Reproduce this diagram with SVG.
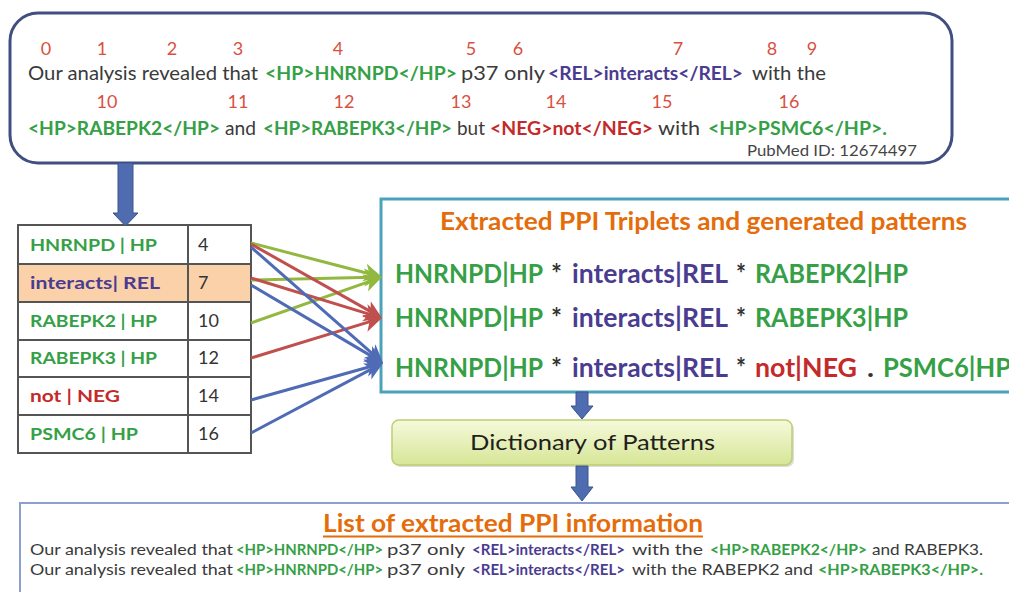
<svg xmlns="http://www.w3.org/2000/svg" width="1009" height="592" viewBox="0 0 1009 592">
  <defs>
    <style>
      text { font-family: Lato, "Open Sans", "Liberation Sans", sans-serif; }
      .dk { fill: #3a3a3a; }
      .hp { fill: #35a046; font-weight: bold; }
      .rel { fill: #4a3c90; font-weight: bold; }
      .neg { fill: #c42a2a; font-weight: bold; }
      .idx { fill: #d9503f; font-size: 18px; text-anchor: middle; }
      .cell { fill: #ffffff; stroke: #555555; stroke-width: 2; }
      .cell-hl { fill: #fbd1aa; stroke: #555555; stroke-width: 2; }
      .tlab { font-size: 17px; font-weight: bold; }
      .tnum { font-size: 18px; fill: #333333; }
      .link { fill: none; stroke-width: 3; }
      .lg { stroke: #92b840; marker-end: url(#headG); }
      .lr { stroke: #c0504d; marker-end: url(#headR); }
      .lb { stroke: #4f6bb5; marker-end: url(#headB); }
      .block { fill: #4f6cb0; stroke: #3b548f; stroke-width: 1; }
      .pat { font-size: 26px; }
      .star { fill: #333333; font-weight: bold; }
      .orange { fill: #e46c0a; font-weight: bold; }
      .small { font-size: 15px; }
    </style>
    <marker id="headG" markerUnits="userSpaceOnUse" markerWidth="20" markerHeight="20" refX="8" refY="10" orient="auto">
      <path d="M0,1 L18,10 L0,19 L5,10 Z" fill="#92b840"/>
    </marker>
    <marker id="headR" markerUnits="userSpaceOnUse" markerWidth="20" markerHeight="20" refX="8" refY="10" orient="auto">
      <path d="M0,1 L18,10 L0,19 L5,10 Z" fill="#c0504d"/>
    </marker>
    <marker id="headB" markerUnits="userSpaceOnUse" markerWidth="20" markerHeight="20" refX="8" refY="10" orient="auto">
      <path d="M0,1 L18,10 L0,19 L5,10 Z" fill="#4f6bb5"/>
    </marker>
    <linearGradient id="dictFill" x1="0" y1="0" x2="0" y2="1">
      <stop offset="0" stop-color="#f6f9dc"/>
      <stop offset="1" stop-color="#d6e696"/>
    </linearGradient>
  </defs>

  <rect x="0" y="0" width="1009" height="592" fill="#ffffff"/>

  <!-- annotated source sentence -->
  <g id="source-sentence">
    <rect x="10" y="13" width="942" height="150" rx="28" fill="#ffffff" stroke="#404f80" stroke-width="3"/>
    <g class="idx">
      <text x="46" y="55">0</text>
      <text x="102" y="55">1</text>
      <text x="172" y="55">2</text>
      <text x="238" y="55">3</text>
      <text x="338" y="55">4</text>
      <text x="471" y="55">5</text>
      <text x="518" y="55">6</text>
      <text x="678" y="55">7</text>
      <text x="772" y="55">8</text>
      <text x="812" y="55">9</text>
      <text x="107" y="108">10</text>
      <text x="238" y="108">11</text>
      <text x="344" y="108">12</text>
      <text x="461" y="108">13</text>
      <text x="556" y="108">14</text>
      <text x="662" y="108">15</text>
      <text x="789" y="108">16</text>
    </g>
    <text y="80" font-size="19"><tspan class="dk" x="28" textLength="230" lengthAdjust="spacingAndGlyphs">Our analysis revealed that</tspan><tspan class="hp" x="265" textLength="192" lengthAdjust="spacingAndGlyphs">&lt;HP&gt;HNRNPD&lt;/HP&gt;</tspan><tspan class="dk" x="461" textLength="84" lengthAdjust="spacingAndGlyphs">p37 only</tspan><tspan class="rel" x="548" textLength="195" lengthAdjust="spacingAndGlyphs">&lt;REL&gt;interacts&lt;/REL&gt;</tspan><tspan class="dk" x="752" textLength="74" lengthAdjust="spacingAndGlyphs">with the</tspan></text>
    <text y="135" font-size="19"><tspan class="hp" x="28" textLength="192" lengthAdjust="spacingAndGlyphs">&lt;HP&gt;RABEPK2&lt;/HP&gt;</tspan><tspan class="dk" x="225" textLength="31" lengthAdjust="spacingAndGlyphs">and</tspan><tspan class="hp" x="263" textLength="189" lengthAdjust="spacingAndGlyphs">&lt;HP&gt;RABEPK3&lt;/HP&gt;</tspan><tspan class="dk" x="457" textLength="28" lengthAdjust="spacingAndGlyphs">but</tspan><tspan class="neg" x="490" textLength="163" lengthAdjust="spacingAndGlyphs">&lt;NEG&gt;not&lt;/NEG&gt;</tspan><tspan class="dk" x="658" textLength="42" lengthAdjust="spacingAndGlyphs">with</tspan><tspan class="hp" x="708" textLength="179" lengthAdjust="spacingAndGlyphs">&lt;HP&gt;PSMC6&lt;/HP&gt;.</tspan></text>
    <text x="747" y="156" class="small" fill="#454545" textLength="170" lengthAdjust="spacingAndGlyphs">PubMed ID: 12674497</text>
  </g>

  <!-- token / position table -->
  <g id="token-table">
    <rect class="cell" x="18" y="225" width="170" height="39"/>
    <rect class="cell" x="188" y="225" width="63" height="39"/>
    <rect class="cell-hl" x="18" y="264" width="170" height="38"/>
    <rect class="cell-hl" x="188" y="264" width="63" height="38"/>
    <rect class="cell" x="18" y="302" width="170" height="38"/>
    <rect class="cell" x="188" y="302" width="63" height="38"/>
    <rect class="cell" x="18" y="340" width="170" height="37"/>
    <rect class="cell" x="188" y="340" width="63" height="37"/>
    <rect class="cell" x="18" y="377" width="170" height="38"/>
    <rect class="cell" x="188" y="377" width="63" height="38"/>
    <rect class="cell" x="18" y="415" width="170" height="38"/>
    <rect class="cell" x="188" y="415" width="63" height="38"/>
    <text class="tlab hp" x="30" y="251" textLength="127" lengthAdjust="spacingAndGlyphs">HNRNPD | HP</text>
    <text class="tlab rel" x="30" y="289" textLength="130" lengthAdjust="spacingAndGlyphs">interacts| REL</text>
    <text class="tlab hp" x="30" y="327" textLength="127" lengthAdjust="spacingAndGlyphs">RABEPK2 | HP</text>
    <text class="tlab hp" x="30" y="364" textLength="127" lengthAdjust="spacingAndGlyphs">RABEPK3 | HP</text>
    <text class="tlab neg" x="30" y="402" textLength="90" lengthAdjust="spacingAndGlyphs">not | NEG</text>
    <text class="tlab hp" x="30" y="440" textLength="108" lengthAdjust="spacingAndGlyphs">PSMC6 | HP</text>
    <text class="tnum" x="198" y="251">4</text>
    <text class="tnum" x="198" y="289">7</text>
    <text class="tnum" x="198" y="327">10</text>
    <text class="tnum" x="198" y="364">12</text>
    <text class="tnum" x="198" y="402">14</text>
    <text class="tnum" x="198" y="440">16</text>
  </g>

  <!-- extracted triplets and patterns -->
  <g id="triplets">
    <rect x="381" y="199" width="640" height="193" fill="#ffffff" stroke="#4ba3ba" stroke-width="3"/>
    <text class="orange" x="440" y="230" font-size="24" textLength="527" lengthAdjust="spacingAndGlyphs">Extracted PPI Triplets and generated patterns</text>
    <text class="pat" y="283"><tspan class="hp" x="395" textLength="148" lengthAdjust="spacingAndGlyphs">HNRNPD|HP</tspan><tspan class="star" x="551" textLength="11" lengthAdjust="spacingAndGlyphs">*</tspan><tspan class="rel" x="572" textLength="156" lengthAdjust="spacingAndGlyphs">interacts|REL</tspan><tspan class="star" x="736" textLength="10" lengthAdjust="spacingAndGlyphs">*</tspan><tspan class="hp" x="755" textLength="153" lengthAdjust="spacingAndGlyphs">RABEPK2|HP</tspan></text>
    <text class="pat" y="327"><tspan class="hp" x="395" textLength="148" lengthAdjust="spacingAndGlyphs">HNRNPD|HP</tspan><tspan class="star" x="551" textLength="11" lengthAdjust="spacingAndGlyphs">*</tspan><tspan class="rel" x="572" textLength="156" lengthAdjust="spacingAndGlyphs">interacts|REL</tspan><tspan class="star" x="736" textLength="10" lengthAdjust="spacingAndGlyphs">*</tspan><tspan class="hp" x="755" textLength="153" lengthAdjust="spacingAndGlyphs">RABEPK3|HP</tspan></text>
    <text class="pat" y="377"><tspan class="hp" x="395" textLength="148" lengthAdjust="spacingAndGlyphs">HNRNPD|HP</tspan><tspan class="star" x="551" textLength="11" lengthAdjust="spacingAndGlyphs">*</tspan><tspan class="rel" x="572" textLength="156" lengthAdjust="spacingAndGlyphs">interacts|REL</tspan><tspan class="star" x="736" textLength="10" lengthAdjust="spacingAndGlyphs">*</tspan><tspan class="neg" x="755" textLength="102" lengthAdjust="spacingAndGlyphs">not|NEG</tspan><tspan class="star" x="867" textLength="7" lengthAdjust="spacingAndGlyphs">.</tspan><tspan class="hp" x="883" textLength="128" lengthAdjust="spacingAndGlyphs">PSMC6|HP</tspan></text>
  </g>

  <!-- pattern dictionary -->
  <g id="dictionary">
    <rect x="394" y="422" width="400" height="45" rx="7" fill="#b9b9b9" opacity="0.5"/>
    <rect x="392" y="420" width="400" height="45" rx="7" fill="url(#dictFill)" stroke="#bccf72" stroke-width="1.5"/>
    <text x="470" y="450" font-size="21" fill="#1f1f1f" textLength="245" lengthAdjust="spacingAndGlyphs">Dictionary of Patterns</text>
  </g>

  <!-- extracted PPI list -->
  <g id="ppi-list">
    <rect x="20" y="503" width="1000" height="100" fill="#ffffff" stroke="#8d9fd2" stroke-width="2"/>
    <text class="orange" x="323" y="532" font-size="24" textLength="380" lengthAdjust="spacingAndGlyphs">List of extracted PPI information</text>
    <line x1="323" y1="536.5" x2="703" y2="536.5" stroke="#e46c0a" stroke-width="2"/>
    <text y="555" class="small"><tspan class="dk" x="30" textLength="203" lengthAdjust="spacingAndGlyphs">Our analysis revealed that</tspan><tspan class="hp" x="236" textLength="147" lengthAdjust="spacingAndGlyphs">&lt;HP&gt;HNRNPD&lt;/HP&gt;</tspan><tspan class="dk" x="387" textLength="78" lengthAdjust="spacingAndGlyphs">p37 only</tspan><tspan class="rel" x="472" textLength="153" lengthAdjust="spacingAndGlyphs">&lt;REL&gt;interacts&lt;/REL&gt;</tspan><tspan class="dk" x="632" textLength="71" lengthAdjust="spacingAndGlyphs">with the</tspan><tspan class="hp" x="710" textLength="157" lengthAdjust="spacingAndGlyphs">&lt;HP&gt;RABEPK2&lt;/HP&gt;</tspan><tspan class="dk" x="872" textLength="111" lengthAdjust="spacingAndGlyphs">and RABEPK3.</tspan></text>
    <text y="575" class="small"><tspan class="dk" x="30" textLength="203" lengthAdjust="spacingAndGlyphs">Our analysis revealed that</tspan><tspan class="hp" x="236" textLength="147" lengthAdjust="spacingAndGlyphs">&lt;HP&gt;HNRNPD&lt;/HP&gt;</tspan><tspan class="dk" x="387" textLength="78" lengthAdjust="spacingAndGlyphs">p37 only</tspan><tspan class="rel" x="472" textLength="153" lengthAdjust="spacingAndGlyphs">&lt;REL&gt;interacts&lt;/REL&gt;</tspan><tspan class="dk" x="632" textLength="181" lengthAdjust="spacingAndGlyphs">with the RABEPK2 and</tspan><tspan class="hp" x="818" textLength="165" lengthAdjust="spacingAndGlyphs">&lt;HP&gt;RABEPK3&lt;/HP&gt;.</tspan></text>
  </g>

  <!-- connectors -->
  <g id="connectors">
    <polygon class="block" points="118,163 133,163 133,213 138,213 125.5,226 113,213 118,213"/>
    <polygon class="block" points="576,392 588,392 588,406 593,406 582,419 571,406 576,406"/>
    <polygon class="block" points="576,466 588,466 588,487 593,487 582,501 571,487 576,487"/>

    <line class="link lg" x1="251" y1="243" x2="372.3" y2="274.5"/>
    <line class="link lg" x1="251" y1="280" x2="372" y2="277.2"/>
    <line class="link lg" x1="251" y1="323" x2="372.6" y2="280.3"/>

    <line class="link lr" x1="251" y1="244" x2="373.3" y2="313.1"/>
    <line class="link lr" x1="251" y1="278" x2="372.4" y2="315.1"/>
    <line class="link lr" x1="251" y1="358" x2="372.4" y2="320.9"/>

    <line class="link lb" x1="251" y1="247" x2="375.5" y2="356.4"/>
    <line class="link lb" x1="251" y1="285" x2="374.4" y2="357.9"/>
    <line class="link lb" x1="251" y1="400" x2="373.4" y2="365.7"/>
    <line class="link lb" x1="251" y1="433" x2="374.2" y2="367.7"/>
  </g>
</svg>
